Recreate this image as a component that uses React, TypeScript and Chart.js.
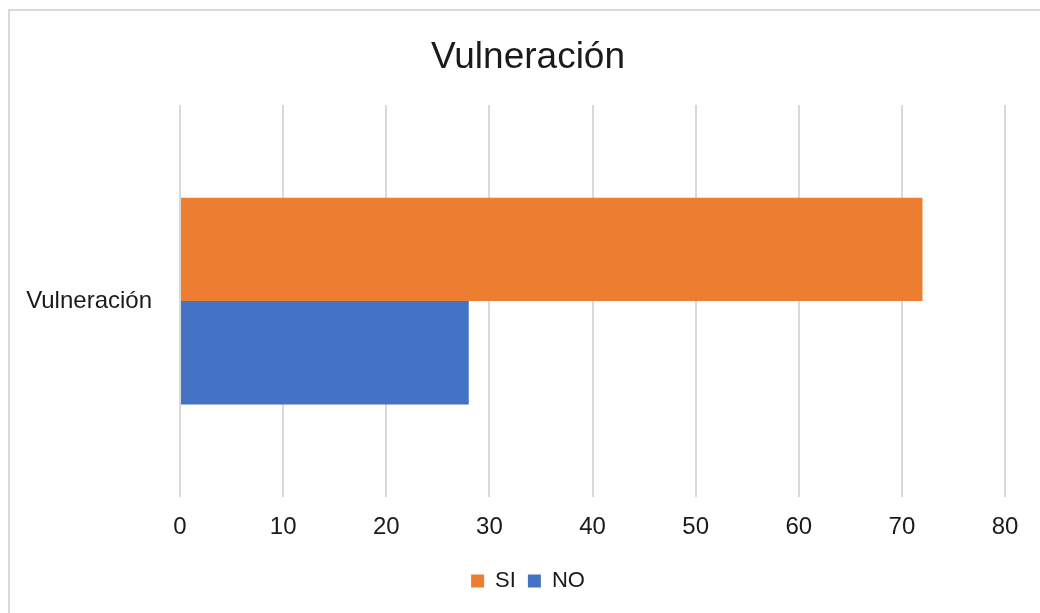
import React, { useEffect, useRef } from "react";
import { Chart, registerables } from "chart.js";

Chart.register(...registerables);

const categories = ["Vulneración"];
const siValues = [72];
const noValues = [28];
const seriesLabels = ["SI", "NO"];
const titleText = "Vulneración";
const xMin = 0;
const xMax = 80;
const xStep = 10;

const unclipYLabels = {
  id: "unclipYLabels",
  afterLayout(chart: any) {
    const y = chart.scales.y;
    if (y) y.left = 0;
  },
};

export default function App() {
  const ref = useRef<HTMLCanvasElement | null>(null);

  useEffect(() => {
    if (!ref.current) return;
    const font = "'Liberation Sans', Arial, sans-serif";
    const chart = new Chart(ref.current, {
      type: "bar",
      data: {
        labels: categories,
        datasets: [
          {
            label: seriesLabels[0],
            data: siValues,
            backgroundColor: "#ED7D31",
            borderWidth: 0,
            categoryPercentage: 0.527,
            barPercentage: 1,
          },
          {
            label: seriesLabels[1],
            data: noValues,
            backgroundColor: "#4472C4",
            borderWidth: 0,
            categoryPercentage: 0.527,
            barPercentage: 1,
          },
        ],
      },
      plugins: [unclipYLabels],
      options: {
        indexAxis: "y",
        animation: false,
        responsive: false,
        maintainAspectRatio: false,
        layout: { padding: { left: 51, right: 35, top: 0, bottom: 11 } },
        plugins: {
          title: {
            display: true,
            text: titleText,
            color: "#1a1a1a",
            font: { family: font, size: 37, weight: "normal" },
            padding: { top: 36, bottom: 24.6 },
          },
          legend: {
            display: true,
            position: "bottom",
            labels: {
              boxWidth: 13,
              boxHeight: 13,
              color: "#1a1a1a",
              font: { family: font, size: 22 },
              padding: 12,
            },
          },
          tooltip: { enabled: false },
        },
        scales: {
          x: {
            min: xMin,
            max: xMax,
            ticks: {
              stepSize: xStep,
              color: "#1a1a1a",
              font: { family: font, size: 24 },
              padding: 16,
            },
            grid: { color: "#d9d9d9", lineWidth: 2, drawTicks: false },
            border: { display: false },
          },
          y: {
            ticks: {
              color: "#1a1a1a",
              font: { family: font, size: 24 },
              padding: 28,
            },
            grid: { display: false, drawTicks: false },
            border: { display: false },
            afterFit: (scale: any) => {
              scale.width = 129;
            },
          },
        },
      },
    });
    return () => chart.destroy();
  }, []);

  return (
    <div style={{ position: "absolute", left: 0, top: 0, width: 1040, height: 613, background: "#fff", overflow: "hidden" }}>
      <div
        style={{
          position: "absolute",
          left: 8,
          top: 9,
          width: 1040,
          height: 620,
          border: "2px solid #d9d9d9",
          boxSizing: "border-box",
        }}
      />
      <canvas ref={ref} width={1040} height={613} style={{ position: "absolute", left: 0, top: 0 }} />
    </div>
  );
}
